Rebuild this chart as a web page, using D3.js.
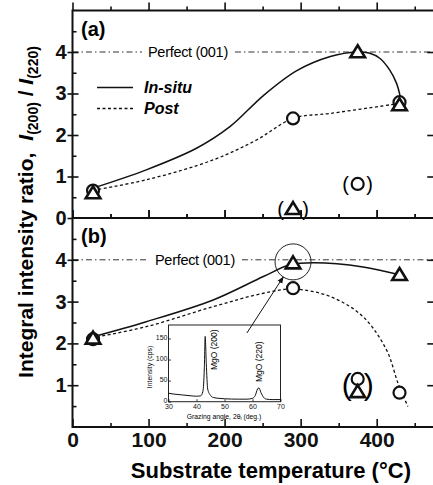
<!DOCTYPE html>
<html>
<head>
<meta charset="utf-8" />
<title>Integral intensity ratio vs substrate temperature</title>
<script src="https://cdnjs.cloudflare.com/ajax/libs/d3/7.8.5/d3.min.js"></script>
<style>
  body { margin: 0; background: #fff; }
  svg { display: block; font-family: "Liberation Sans", Arial, sans-serif; }
  .frame { stroke: #111; stroke-width: 2; fill: none; }
  .tick line { stroke: #111; stroke-width: 1.6; }
  .tick text { fill: #111; }
  .mk { fill: #fff; stroke: #111; }
</style>
</head>
<body>
<script>
// axes
const tempTicks = [0, 100, 200, 300, 400];
const tempMinor = [50, 150, 250, 350, 450];
const ratioTicksA = [0, 1, 2, 3, 4];
const ratioTicksB = [1, 2, 3, 4];
const ratioMajor = [1, 2, 3, 4];
const ratioMinor = [0.5, 1.5, 2.5, 3.5, 4.5];
const perfectRatio = 4;

// measured points: [temperature (°C), I(200)/I(220)]
const insituA = [[27, 0.6], [375, 4.0], [430, 2.72]];
const postA = [[27, 0.66], [290, 2.4], [430, 2.79]];
const outCircleA = [[375, 0.82]];
const outTriangleA = [[290, 0.22]];

const insituB = [[27, 2.12], [290, 3.92], [430, 3.64]];
const postB = [[27, 2.1], [290, 3.32], [430, 0.82]];
const outCircleB = [[375, 1.15]];
const outTriangleB = [[375, 0.84]];

// guide-to-the-eye curves
const insituCurveA = [[27, 0.72], [97, 1.16], [163, 1.68], [207, 2.2], [251, 2.95], [295, 3.55],
  [339, 3.89], [374, 4.0], [391, 3.97], [404, 3.85], [417, 3.57], [426, 3.25], [431, 2.92], [432, 2.8]];
const postCurveA = [[27, 0.67], [97, 0.92], [185, 1.4], [242, 1.88], [290, 2.4], [339, 2.52], [430, 2.76]];
const insituCurveB = [[25, 2.15], [97, 2.52], [185, 3.04], [251, 3.6], [286, 3.88], [317, 3.93],
  [382, 3.83], [430, 3.64]];
const postCurveB = [[25, 2.13], [97, 2.4], [185, 2.88], [251, 3.2], [290, 3.3], [339, 3.12],
  [382, 2.64], [413, 1.84], [428, 1.05], [441, 0.49]];

// inset: XRD pattern, grazing angle 2θi (deg.) vs intensity (cps)
const xrdAngle = [30, 32, 35, 38, 40, 41.5, 42.3, 42.8, 43.1, 43.5, 44, 45, 46, 48, 50, 55, 58,
  60, 61, 61.8, 62.3, 63, 64, 65, 67, 70];
const xrdCounts = [20, 18, 16, 14, 13, 14, 25, 80, 155, 90, 30, 15, 10, 8, 7, 6, 6,
  8, 15, 30, 33, 22, 10, 6, 5, 5];
const xrdTicksX = [30, 40, 50, 60, 70];
const xrdTicksY = [0, 50, 100, 150];

const W = 433, H = 485;
const left = 72.5;

const x = d3.scaleLinear().domain([0, 477]).range([left, left + 477 * 0.7605]);
const yA = d3.scaleLinear().domain([0, 5]).range([218, 10.5]);
const yB = d3.scaleLinear().domain([0, 5]).range([427, 218]);

const svg = d3.select("body").append("svg")
  .attr("width", W)
  .attr("height", H);

const line = (y) => d3.line().x(d => x(d[0])).y(d => y(d[1])).curve(d3.curveCatmullRom.alpha(0.5));

function triangles(g, data, y) {
  g.selectAll(null).data(data).enter().append("path")
    .attr("class", "mk")
    .attr("d", "M0,-6.8L7.3,5.2L-7.3,5.2Z")
    .attr("stroke-width", 2.6)
    .attr("stroke-linejoin", "miter")
    .attr("transform", d => `translate(${x(d[0])},${y(d[1])})`);
}
function circles(g, data, y) {
  g.selectAll(null).data(data).enter().append("circle")
    .attr("class", "mk")
    .attr("r", 6)
    .attr("stroke-width", 2.2)
    .attr("cx", d => x(d[0]))
    .attr("cy", d => y(d[1]));
}
// brackets around the points that are shown in parentheses
function parens(g, data, y, dx, size, dy) {
  const cx = d3.mean(data, d => x(d[0]));
  const cy = d3.mean(data, d => y(d[1]));
  [["(", -dx], [")", dx]].forEach(p => {
    g.append("text")
      .attr("x", cx + p[1])
      .attr("y", cy + dy)
      .attr("text-anchor", "middle")
      .style("font-size", size + "px")
      .text(p[0]);
  });
}

function panel(opt) {
  const y = opt.y;
  const g = svg.append("g");

  // perfect (001) reference line, broken around its label
  const lbl = g.append("text")
    .attr("x", opt.labelX)
    .attr("y", y(perfectRatio) + 5)
    .style("font-size", "14.5px")
    .style("letter-spacing", "-0.3px")
    .text("Perfect (001)");
  const tw = lbl.node().getComputedTextLength();
  [[x(0), opt.labelX - 6], [opt.labelX + tw + 7, x(477)]].forEach(s => {
    g.append("line")
      .attr("x1", s[0]).attr("x2", s[1])
      .attr("y1", y(perfectRatio)).attr("y2", y(perfectRatio))
      .attr("stroke", "#333").attr("stroke-width", 1)
      .attr("stroke-dasharray", "6,3,1.5,3");
  });

  g.append("path").datum(opt.insituCurve)
    .attr("d", line(y)).attr("fill", "none")
    .attr("stroke", "#111").attr("stroke-width", 1.5);
  g.append("path").datum(opt.postCurve)
    .attr("d", line(y)).attr("fill", "none")
    .attr("stroke", "#111").attr("stroke-width", 1.3)
    .attr("stroke-dasharray", "3,2.5");

  circles(g, opt.post, y);
  triangles(g, opt.insitu, y);
  circles(g, opt.outCircle, y);
  triangles(g, opt.outTriangle, y);

  // panel letter
  svg.append("text")
    .attr("x", 81).attr("y", y(5) + 25)
    .style("font-size", "20px").style("font-weight", "bold")
    .text(opt.name);

  // y ticks, left (crossing) and right (inward)
  svg.append("g").attr("transform", `translate(${left},0)`)
    .call(d3.axisLeft(y).tickValues(opt.labels).tickSize(5).tickPadding(1).tickFormat(d3.format("d")))
    .call(a => a.select(".domain").remove())
    .call(a => a.selectAll("text").style("font-size", "20px").style("font-weight", "bold"));
  svg.append("g").attr("transform", `translate(${left},0)`)
    .call(d3.axisLeft(y).tickValues(ratioMajor).tickSize(-6).tickFormat(""))
    .call(a => a.select(".domain").remove());
  svg.append("g").attr("transform", `translate(${left},0)`)
    .call(d3.axisLeft(y).tickValues(ratioMinor).tickSize(-4).tickFormat(""))
    .call(a => a.select(".domain").remove());
  svg.append("g").attr("transform", `translate(${x(477)},0)`)
    .call(d3.axisRight(y).tickValues(ratioMajor).tickSize(-8).tickFormat(""))
    .call(a => a.select(".domain").remove());

  // x ticks on the panel's top and bottom edges, pointing inward
  [[y(5), d3.axisTop, 8, 4], [y(0), d3.axisBottom, -8, -4]].forEach(e => {
    svg.append("g").attr("transform", `translate(0,${e[0]})`)
      .call(e[1](x).tickValues(tempTicks).tickSize(e[2]).tickFormat(""))
      .call(a => a.select(".domain").remove());
    svg.append("g").attr("transform", `translate(0,${e[0]})`)
      .call(e[1](x).tickValues(tempMinor).tickSize(e[3]).tickFormat(""))
      .call(a => a.select(".domain").remove());
  });

  return g;
}

const ga = panel({
  name: "(a)", y: yA, labelX: 148, labels: ratioTicksA,
  insitu: insituA, post: postA, outCircle: outCircleA, outTriangle: outTriangleA,
  insituCurve: insituCurveA, postCurve: postCurveA
});
parens(ga, outCircleA, yA, 12, 20, 7);
parens(ga, outTriangleA, yA, 12.5, 20, 7);

const gb = panel({
  name: "(b)", y: yB, labelX: 155, labels: ratioTicksB,
  insitu: insituB, post: postB, outCircle: outCircleB, outTriangle: outTriangleB,
  insituCurve: insituCurveB, postCurve: postCurveB
});
parens(gb, outCircleB.concat(outTriangleB), yB, 11, 30, 10);

// legend (panel a)
svg.append("line").attr("x1", 97).attr("x2", 133).attr("y1", 87.5).attr("y2", 87.5)
  .attr("stroke", "#111").attr("stroke-width", 1.5);
svg.append("line").attr("x1", 97).attr("x2", 133).attr("y1", 108.5).attr("y2", 108.5)
  .attr("stroke", "#111").attr("stroke-width", 1.3).attr("stroke-dasharray", "3,2.5");
svg.append("text").attr("x", 144).attr("y", 93)
  .style("font-size", "16px").style("font-weight", "bold").style("font-style", "italic")
  .text("In-situ");
svg.append("text").attr("x", 144).attr("y", 114)
  .style("font-size", "16px").style("font-weight", "bold").style("font-style", "italic")
  .text("Post");

// x axis labels under panel (b)
svg.append("g").attr("transform", `translate(0,${yB(0)})`)
  .call(d3.axisBottom(x).tickValues(tempTicks).tickSize(0).tickPadding(5))
  .call(a => a.select(".domain").remove())
  .call(a => a.selectAll("text").style("font-size", "21px").style("font-weight", "bold"));

// frame
svg.append("rect").attr("class", "frame")
  .attr("x", left).attr("y", yA(5))
  .attr("width", x(477) - left).attr("height", yB(0) - yA(5));
svg.append("line").attr("class", "frame")
  .attr("x1", left).attr("x2", x(477)).attr("y1", yA(0)).attr("y2", yA(0));

// axis titles
svg.append("text")
  .attr("x", (left + x(477)) / 2 + 17).attr("y", 478)
  .attr("text-anchor", "middle")
  .style("font-size", "22px").style("font-weight", "bold")
  .text("Substrate temperature (\u00B0C)");

const yt = svg.append("text")
  .attr("transform", "translate(33,212) rotate(-90)")
  .attr("text-anchor", "middle")
  .style("font-size", "21px").style("font-weight", "bold");
yt.append("tspan").text("Integral intensity ratio,");
yt.append("tspan").attr("dx", 12).style("font-style", "italic").text("I");
yt.append("tspan").attr("dy", 5).style("font-size", "14px").text("(200)");
yt.append("tspan").attr("dy", -5).text(" / ");
yt.append("tspan").style("font-style", "italic").text("I");
yt.append("tspan").attr("dy", 5).style("font-size", "14px").text("(220)");

// highlighted point and arrow to the inset
const hx = x(290), hy = yB(3.95), hr = 18;
svg.append("circle").attr("cx", hx).attr("cy", hy).attr("r", hr)
  .attr("fill", "none").attr("stroke", "#222").attr("stroke-width", 1);

// inset
const ix = d3.scaleLinear().domain([30, 70]).range([168.5, 280.5]);
const iy = d3.scaleLinear().domain([0, 182]).range([401.7, 325]);
const inset = svg.append("g");
inset.append("rect")
  .attr("x", ix(30)).attr("y", iy(182))
  .attr("width", ix(70) - ix(30)).attr("height", iy(0) - iy(182))
  .attr("fill", "#fff").attr("stroke", "#222").attr("stroke-width", 1);
inset.append("path").datum(d3.zip(xrdAngle, xrdCounts))
  .attr("d", d3.line().x(d => ix(d[0])).y(d => iy(d[1])).curve(d3.curveMonotoneX))
  .attr("fill", "none").attr("stroke", "#111").attr("stroke-width", 1);
inset.append("g").attr("transform", `translate(0,${iy(0)})`)
  .call(d3.axisBottom(ix).tickValues(xrdTicksX).tickSize(-2.5).tickPadding(2.5))
  .call(a => a.select(".domain").remove())
  .call(a => a.selectAll("line").style("stroke-width", 0.8))
  .call(a => a.selectAll("text").style("font-size", "7px"));
inset.append("g").attr("transform", `translate(${ix(30)},-1.5)`)
  .call(d3.axisLeft(iy).tickValues(xrdTicksY).tickSize(-2.5).tickPadding(1))
  .call(a => a.select(".domain").remove())
  .call(a => a.selectAll("line").style("stroke-width", 0.8).attr("transform", "translate(0,1.5)"))
  .call(a => a.selectAll("text").style("font-size", "7px"));
const xl = inset.append("text").attr("x", 224).attr("y", 418.5)
  .attr("text-anchor", "middle").style("font-size", "6.8px").text("Grazing angle, 2\u03B8");
xl.append("tspan").attr("dy", 1.5).style("font-size", "5px").text("i");
xl.append("tspan").attr("dy", -1.5).text(" (deg.)");
inset.append("text").attr("transform", "translate(152,367) rotate(-90)")
  .attr("text-anchor", "middle").style("font-size", "6.8px").text("Intensity (cps)");
inset.append("text").attr("transform", "translate(217,370) rotate(-90)")
  .style("font-size", "8.5px").text("MgO (200)");
inset.append("text").attr("transform", "translate(261.5,382) rotate(-90)")
  .style("font-size", "8.5px").text("MgO (220)");

// arrow
svg.append("defs").append("marker")
  .attr("id", "head").attr("viewBox", "0 0 10 10")
  .attr("refX", 9).attr("refY", 5)
  .attr("markerWidth", 7).attr("markerHeight", 7)
  .attr("orient", "auto")
  .append("path").attr("d", "M0,1L10,5L0,9Z").attr("fill", "#111");
const ax0 = ix(58), ay0 = iy(163);
const dx = ax0 - hx, dy = ay0 - hy, dl = Math.hypot(dx, dy);
svg.append("line")
  .attr("x1", ax0).attr("y1", ay0)
  .attr("x2", hx + dx / dl * hr).attr("y2", hy + dy / dl * hr)
  .attr("stroke", "#111").attr("stroke-width", 1)
  .attr("marker-end", "url(#head)");
</script>
</body>
</html>
